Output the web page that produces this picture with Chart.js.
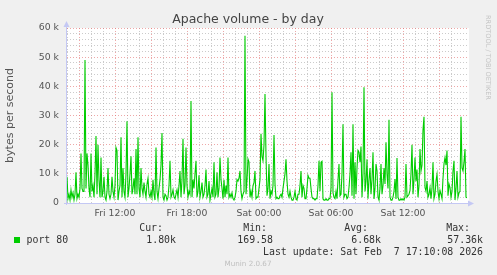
<!DOCTYPE html>
<html>
<head>
<meta charset="utf-8">
<title>Apache volume - by day</title>
<script src="https://cdn.jsdelivr.net/npm/chart.js@4.4.1/dist/chart.umd.min.js"></script>
<style>
  html, body { margin: 0; padding: 0; background: #f0f0f0; }
  canvas { display: block; }
</style>
</head>
<body>
<canvas id="munin" width="497" height="275"></canvas>
<script>
const title = 'Apache volume - by day';
const yAxisTitle = 'bytes per second';
const seriesName = 'port 80';
const seriesColor = '#00cc00';

// time in minutes since Fri 00:00, one sample every 5 minutes
const startMinute = 480;   // Fri 08:00
const stepMinutes = 5;
const endMinute = 2480;    // Sat 17:20

// port 80 traffic, k bytes per second
const bytesK = [
  9, 1.5, 3, 1, 4.5, 2, 3.5, 1, 3, 10.5,
  1.5, 3, 2, 5, 17, 5, 4, 4, 49, 5,
  17, 13, 5, 2, 17, 4, 6, 2, 10, 23,
  3, 20, 8, 2, 15.6, 2, 4, 9, 2, 1,
  4, 12, 3, 1.5, 3, 9, 4, 2, 6, 19,
  18, 1, 4, 6, 22.5, 2, 12, 4, 2, 10,
  28, 2, 5, 10, 16, 3, 5, 8.5, 3, 18.5,
  3, 22.5, 5, 2, 12, 5, 3, 7, 4, 2,
  6.5, 8.5, 3, 2, 4, 2, 8, 3, 1, 19,
  4, 1.5, 5, 8, 13, 24, 2, 1, 3, 2.5,
  1, 2, 6, 14.5, 2, 3, 4.5, 2, 1.5, 3,
  4.5, 2, 6, 11, 2, 8, 22, 3, 6, 19,
  6, 2, 4, 3, 35, 2, 8, 5, 10, 14.5,
  2, 4, 9.5, 2, 4, 7, 2, 3, 6, 11.5,
  2, 3, 7.5, 1, 3, 5, 2, 14, 2, 3,
  10.5, 2, 5, 15.6, 8, 5, 1.5, 8, 2, 6,
  3, 15.6, 2, 3, 2, 3.5, 1.5, 1, 2, 4,
  8, 7.5, 8.5, 11, 4, 1.5, 3, 4, 57.36, 3,
  8, 15, 14, 2, 4, 2, 6, 7, 11, 1.5,
  2, 2, 5, 8, 23.7, 16, 14.5, 20, 37.4, 16,
  2.5, 5, 13.4, 1.5, 4, 3, 6, 23.3, 6.5, 1.5,
  2, 1.5, 1.5, 2.5, 3, 2, 5, 7.5, 10, 15,
  7.5, 3, 2, 4, 2, 1, 1, 2, 4, 1.5,
  1, 3, 3, 6, 11, 2, 6, 5, 1.5, 1.5,
  5, 9.4, 8.5, 8.5, 5, 2, 1.5, 1.5, 1, 1.5,
  1.5, 6, 14.5, 4, 14, 14.3, 1.4, 1, 1, 1.5,
  1, 1, 1.5, 1.5, 5, 38, 3.5, 2, 1.5, 4,
  1.5, 8, 13.4, 2.5, 3, 10, 27, 2, 3, 3,
  1.5, 2, 5.3, 10, 17.4, 2.5, 27, 1.5, 14, 3,
  12, 18, 17.4, 14, 19.4, 2, 10, 39.7, 4, 7.5,
  15, 1.5, 8, 12, 3, 8, 17.4, 1.4, 5, 13.4,
  11, 2, 1, 5, 13.4, 3, 6, 12, 6.5, 20.8,
  10, 5, 28.5, 2, 1, 1, 2, 4, 8.2, 1.4,
  15.4, 2, 1, 1, 1.5, 1, 1.5, 1, 2, 13.4,
  2, 2.5, 3, 4.3, 10, 20, 3, 8, 15.6, 7.5,
  11.5, 2, 6, 18.5, 11, 13, 25, 29.6, 5.3, 4,
  7.5, 2, 3, 5.3, 1.5, 5, 14, 1.5, 3, 7.5,
  9.8, 4, 1.5, 4.3, 3, 1.5, 8.5, 13.4, 15.6, 13,
  18, 2.5, 6.5, 5.3, 2, 4, 11, 14.5, 1, 5,
  11, 2, 3.5, 4, 29.6, 12, 11, 14, 18.5, 2,
  1.8
];

const xTickMinutes = [720, 1080, 1440, 1800, 2160];
const xTickLabels = ['Fri 12:00', 'Fri 18:00', 'Sat 00:00', 'Sat 06:00', 'Sat 12:00'];
const yTickValues = [0, 10000, 20000, 30000, 40000, 50000, 60000];
const yTickLabels = ['0', '10 k', '20 k', '30 k', '40 k', '50 k', '60 k'];

const statNames = ['Cur:', 'Min:', 'Avg:', 'Max:'];
const statValues = ['1.80k', '169.58', '6.68k', '57.36k'];
const lastUpdate = 'Last update: Sat Feb  7 17:10:08 2026';
const footer = 'Munin 2.0.67';
const watermark = 'RRDTOOL / TOBI OETIKER';

const sans = '"DejaVu Sans", sans-serif';
const mono = '"DejaVu Sans Mono", monospace';
const axisColor = '#c4c8f4';
const majorGrid = 'rgba(226,110,110,0.6)';
const minorGrid = 'rgba(160,160,160,0.55)';

function gridColor(v, major, minor) {
    if (v % major === 0) return majorGrid;
    if (v % minor === 0) return minorGrid;
    return 'rgba(0,0,0,0)';
}

const muninDecor = {
    id: 'muninDecor',
    beforeDraw(chart) {
        const { ctx, chartArea: a } = chart;
        ctx.save();
        ctx.fillStyle = '#ffffff';
        ctx.fillRect(a.left, a.top, a.right - a.left + 2, a.bottom - a.top);
        ctx.restore();
    },
    afterDraw(chart) {
        const { ctx, chartArea: a } = chart;
        ctx.save();

        // axes with arrows
        ctx.strokeStyle = axisColor;
        ctx.fillStyle = axisColor;
        ctx.lineWidth = 1;
        ctx.beginPath();
        ctx.moveTo(a.left - 0.5, a.bottom + 2);
        ctx.lineTo(a.left - 0.5, a.top - 4);
        ctx.moveTo(a.left - 3, a.bottom + 0.5);
        ctx.lineTo(a.right + 3, a.bottom + 0.5);
        ctx.stroke();
        ctx.beginPath();
        ctx.moveTo(a.left - 3.5, a.top - 1);
        ctx.lineTo(a.left + 2.5, a.top - 1);
        ctx.lineTo(a.left - 0.5, a.top - 7);
        ctx.fill();
        ctx.beginPath();
        ctx.moveTo(a.right + 1, a.bottom - 2.5);
        ctx.lineTo(a.right + 1, a.bottom + 3.5);
        ctx.lineTo(a.right + 7, a.bottom + 0.5);
        ctx.fill();

        // title
        ctx.fillStyle = '#444';
        ctx.font = '12.5px ' + sans;
        ctx.textAlign = 'center';
        ctx.textBaseline = 'middle';
        ctx.fillText(title, 248, 20);

        // watermark on the right
        ctx.save();
        ctx.translate(488, 15);
        ctx.rotate(Math.PI / 2);
        ctx.fillStyle = '#c4c4c4';
        ctx.font = '6.6px ' + sans;
        ctx.textAlign = 'left';
        ctx.fillText(watermark, 0, 0);
        ctx.restore();

        // legend table
        ctx.font = '9.9px ' + mono;
        ctx.fillStyle = '#333';
        ctx.textAlign = 'right';
        const headRight = [163, 267, 368, 470];
        const valueRight = [176, 273, 381, 483];
        statNames.forEach((s, i) => ctx.fillText(s, headRight[i], 228));
        statValues.forEach((s, i) => ctx.fillText(s, valueRight[i], 240.5));
        ctx.fillText(lastUpdate, 483, 252.5);
        ctx.textAlign = 'left';
        ctx.fillText(seriesName, 26.5, 240.5);
        ctx.fillStyle = seriesColor;
        ctx.fillRect(14, 237, 6, 6);

        // footer
        ctx.fillStyle = '#c0c0c0';
        ctx.font = '7.2px ' + sans;
        ctx.textAlign = 'center';
        ctx.fillText(footer, 248, 264);
        ctx.restore();
    }
};

const ctx = document.getElementById('munin').getContext('2d');
const chart = new Chart(ctx, {
    type: 'line',
    data: {
        datasets: [{
            label: seriesName,
            data: bytesK.map((v, i) => ({ x: startMinute + i * stepMinutes, y: v * 1000 })),
            borderColor: seriesColor,
            borderWidth: 1.1,
            pointRadius: 0,
            tension: 0,
            fill: false
        }]
    },
    options: {
        responsive: false,
        animation: false,
        layout: { padding: { top: 28, right: 30, bottom: 0, left: 0 } },
        plugins: {
            legend: { display: false },
            tooltip: { enabled: false }
        },
        scales: {
            x: {
                type: 'linear',
                min: startMinute,
                max: endMinute,
                afterFit: s => { s.height = 72; },
                grid: {
                    color: c => gridColor(c.tick.value, 180, 60),
                    lineWidth: 1,
                    drawTicks: false
                },
                border: { display: false, dash: [1, 2] },
                ticks: {
                    stepSize: 60,
                    autoSkip: false,
                    maxRotation: 0,
                    padding: 5,
                    color: '#555',
                    font: { family: sans, size: 9.3 },
                    callback: v => {
                        const i = xTickMinutes.indexOf(v);
                        return i >= 0 ? xTickLabels[i] : '';
                    }
                }
            },
            y: {
                min: 0,
                max: 60000,
                afterFit: s => { s.width = 67; },
                grid: {
                    color: c => gridColor(c.tick.value, 10000, 2000),
                    lineWidth: 1,
                    drawTicks: false
                },
                border: { display: false, dash: [1, 2] },
                title: {
                    display: true,
                    text: yAxisTitle,
                    color: '#555',
                    font: { family: sans, size: 11 },
                    padding: { top: 4, bottom: 0 }
                },
                ticks: {
                    stepSize: 2000,
                    autoSkip: false,
                    padding: 8,
                    color: '#555',
                    font: { family: sans, size: 9.3 },
                    callback: v => {
                        const i = yTickValues.indexOf(v);
                        return i >= 0 ? yTickLabels[i] : '';
                    }
                }
            }
        }
    },
    plugins: [muninDecor]
});
</script>
</body>
</html>
